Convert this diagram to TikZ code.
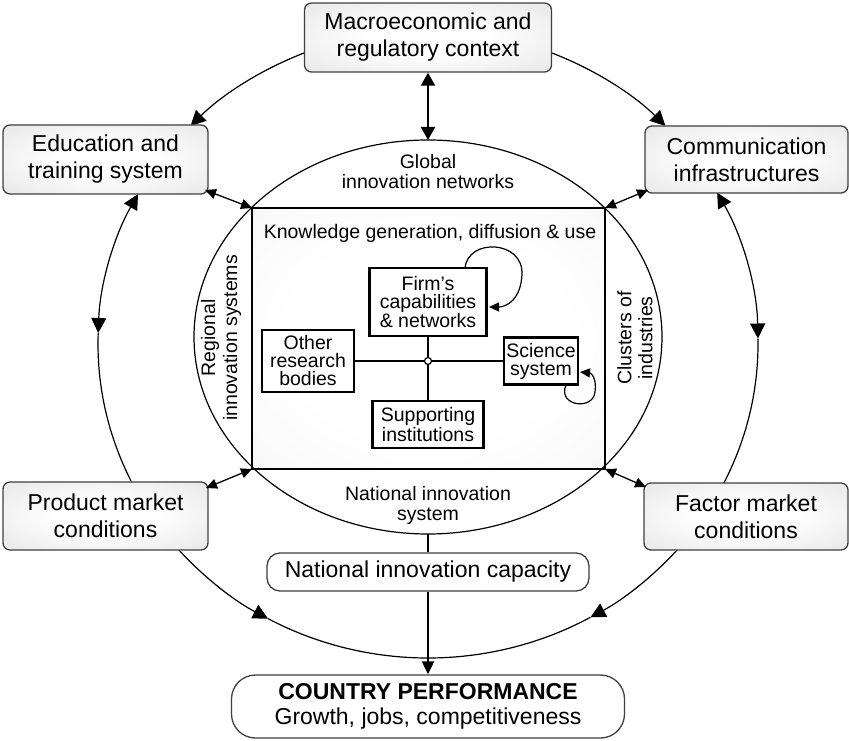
\documentclass[tikz,border=0pt]{standalone}
\usepackage{fontspec}
\setmainfont{Liberation Sans}
\usetikzlibrary{arrows.meta}
\newcommand\fbig{\fontsize{23}{27}\selectfont}
\newcommand\fsmall{\fontsize{19.5}{19}\selectfont}
\pgfdeclareradialshading{boxshade}{\pgfpoint{0bp}{0bp}}{color(0bp)=(white); color(12bp)=(white); color(50bp)=(black!15); color(72bp)=(black!20)}
\pgfdeclareradialshading{ringshade}{\pgfpoint{0bp}{0bp}}{color(0bp)=(white); color(30bp)=(white); color(50bp)=(black!6); color(72bp)=(black!6)}
\pgfdeclareradialshading{rectshade}{\pgfpoint{0bp}{0bp}}{color(0bp)=(white); color(20bp)=(white); color(50bp)=(black!5); color(72bp)=(black!7)}
\begin{document}
\begin{tikzpicture}[x=1pt,y=1pt,
  gbox/.style={draw=black!75, line width=1.3pt, rounded corners=7pt, shading=boxshade,
    align=center, font=\fbig, inner sep=0pt},
  sbox/.style={draw, line width=2.4pt, fill=white, align=center, font=\fsmall, inner sep=0pt},
  plab/.style={font=\fsmall, align=center, inner sep=0pt},
  thinl/.style={line width=1.2pt},
  bigtip/.style={-{Triangle[length=15pt,width=15pt]}},
  bigtips/.style={{Triangle[length=15pt,width=15pt]}-{Triangle[length=15pt,width=15pt]}},
  cornerarr/.style={line width=1.3pt, {Triangle[length=11pt,width=10pt]}-{Triangle[length=11pt,width=10pt]}},
  looparr/.style={line width=1.2pt, -{Triangle[length=10pt,width=9pt]}}
]
\useasboundingbox (0,0) rectangle (849,740);

% background shading
\shade[shading=ringshade] (428,396) ellipse [x radius=330pt, y radius=314pt];
\fill[white] (428,403) ellipse [x radius=234pt, y radius=197pt];
\shade[shading=rectshade] (252,271) rectangle (605,532);

% outer ring arcs
\draw[thinl, bigtip] (428,396) ++(112:330pt and 314pt) arc[start angle=112, end angle=136, x radius=330pt, y radius=314pt];
\draw[thinl, bigtip] (428,396) ++(68:330pt and 314pt) arc[start angle=68, end angle=44, x radius=330pt, y radius=314pt];
\draw[thinl, bigtips] (428,396) ++(151.5:330pt and 314pt) arc[start angle=151.5, end angle=178, x radius=330pt, y radius=314pt];
\draw[thinl] (428,396) ++(178:330pt and 314pt) arc[start angle=178, end angle=206, x radius=330pt, y radius=314pt];
\draw[thinl, bigtips] (428,396) ++(28.8:330pt and 314pt) arc[start angle=28.8, end angle=1, x radius=330pt, y radius=314pt];
\draw[thinl] (428,396) ++(1:330pt and 314pt) arc[start angle=1, end angle=-26.3, x radius=330pt, y radius=314pt];
\draw[thinl, bigtip] (428,396) ++(221:330pt and 314pt) arc[start angle=221, end angle=241, x radius=330pt, y radius=314pt];
\draw[thinl] (428,396) ++(241:330pt and 314pt) arc[start angle=241, end angle=270, x radius=330pt, y radius=314pt];
\draw[thinl, bigtip] (428,396) ++(319:330pt and 314pt) arc[start angle=319, end angle=299.5, x radius=330pt, y radius=314pt];
\draw[thinl] (428,396) ++(299.5:330pt and 314pt) arc[start angle=299.5, end angle=270, x radius=330pt, y radius=314pt];

% inner ellipse and rectangle
\draw[thinl] (428,403) ellipse [x radius=234pt, y radius=197pt];
\draw[line width=2.5pt] (252,271) rectangle (605,532);

% gray boxes
\node[gbox, minimum width=247pt, minimum height=69pt] (macro) at (428,702.5) {Macroeconomic and\\regulatory context};
\node[gbox, minimum width=205pt, minimum height=69pt] (edu) at (105.5,580.5) {Education and\\training system};
\node[gbox, minimum width=203pt, minimum height=67pt] (comm) at (746.5,580.5) {Communication\\infrastructures};
\node[gbox, minimum width=205pt, minimum height=68pt] (prod) at (105.5,224) {Product market\\conditions};
\node[gbox, minimum width=204pt, minimum height=67pt] (fact) at (746,223.5) {Factor market\\conditions};

\node[draw=black!75, line width=1.3pt, rounded corners=13pt, fill=white, font=\fbig, inner sep=0pt,
  minimum width=322pt, minimum height=38pt] (cap) at (428,168) {National innovation capacity};
\node[draw=black!75, line width=1.3pt, rounded corners=24pt, fill=white, align=center, inner sep=0pt,
  font=\fontsize{23}{25}\selectfont, minimum width=393pt, minimum height=63pt] (perf) at (428,33.5)
  {\textbf{COUNTRY PERFORMANCE}\\Growth, jobs, competitiveness};

% inner labels
\node[plab] (kgdu) at (430,507) {Knowledge generation, diffusion \& use};
\node[plab, font=\fontsize{19.5}{20}\selectfont] (gin) at (428,568) {Global\\innovation networks};
\node[plab, font=\fontsize{19.5}{20}\selectfont] (nis) at (428,235) {National innovation\\system};
\node[plab, font=\fontsize{19.5}{22}\selectfont, rotate=90] (ris) at (221,402) {Regional\\innovation systems};
\node[plab, font=\fontsize{19.5}{21}\selectfont, rotate=90] (coi) at (635,402) {Clusters of\\industries};

% inner boxes
\node[sbox, minimum width=117pt, minimum height=68pt, font=\fontsize{19.5}{18.5}\selectfont] (firm) at (428,438) {Firm’s\\capabilities\\\& networks};
\node[sbox, minimum width=92pt, minimum height=62pt, font=\fontsize{19.5}{18}\selectfont] (other) at (308,379) {Other\\research\\bodies};
\node[sbox, minimum width=74pt, minimum height=47pt, font=\fontsize{19.5}{18}\selectfont] (sci) at (541,379) {Science\\system};
\node[sbox, minimum width=111pt, minimum height=47pt, font=\fontsize{19.5}{17.5}\selectfont] (supp) at (428,315.5) {Supporting\\institutions};
\node[circle, draw, line width=1.2pt, fill=white, inner sep=0pt, minimum size=7pt] (hub) at (428,379) {};

\draw[line width=2pt] (firm) -- (hub);
\draw[line width=2pt] (hub) -- (supp);
\draw[line width=2pt] (other) -- (hub);
\draw[line width=2pt] (hub) -- (sci);

% self loops
\coordinate (floop) at (465,472);
\coordinate (floopend) at (489,433);
\draw[looparr] (floop) .. controls (468,502) and (523,500) .. (522,466) .. controls (521,440) and (506,433) .. (floopend);
\coordinate (sloop) at (566,355);
\coordinate (sloopend) at (580,368);
\draw[looparr] (sloop) .. controls (557,334) and (593,329) .. (595,348) .. controls (597,362) and (591,367) .. (sloopend);

% corner arrows
\coordinate (rtl) at (252,532);
\coordinate (rtr) at (605,532);
\coordinate (rbl) at (252,271);
\coordinate (rbr) at (605,271);
\coordinate (edupt) at (205,550);
\coordinate (commpt) at (648,550);
\coordinate (prodpt) at (206,252);
\coordinate (factpt) at (646,253);
\draw[cornerarr] (edupt) -- (rtl);
\draw[cornerarr] (commpt) -- (rtr);
\draw[cornerarr] (prodpt) -- (rbl);
\draw[cornerarr] (factpt) -- (rbr);

% vertical connectors
\coordinate (gtop) at (428,600);
\coordinate (gbot) at (428,206);
\draw[line width=2pt, {Triangle[length=13pt,width=14pt]}-{Triangle[length=13pt,width=14pt]}] (macro) -- (gtop);
\draw[line width=2pt] (gbot) -- (cap);
\draw[line width=2pt, -{Triangle[length=13pt,width=12pt]}] (cap) -- (perf);
\end{tikzpicture}
\end{document}
